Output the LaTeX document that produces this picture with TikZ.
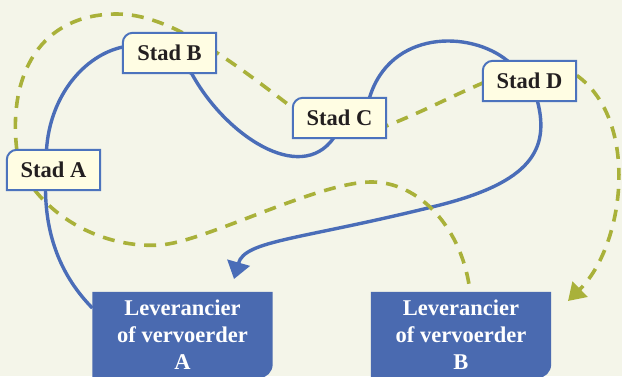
\documentclass[tikz,border=0pt]{standalone}
\usepackage{fontspec}
\setmainfont{Liberation Serif}
\usetikzlibrary{arrows.meta}
\definecolor{paper}{HTML}{F4F5E9}
\definecolor{cream}{HTML}{FFFDE3}
\definecolor{ink}{HTML}{231F20}
\definecolor{frameblue}{HTML}{4C73BD}
\definecolor{boxblue}{HTML}{4A6AB0}
\definecolor{routeblue}{HTML}{4A6DB8}
\definecolor{ritgroen}{HTML}{A9B13A}
\pgfdeclarelayer{lines}
\pgfdeclarelayer{boxes}
\pgfsetlayers{lines,boxes,main}

\begin{document}
\begin{tikzpicture}[x=1pt,y=-1pt,
    stad/.style={minimum width=93pt,minimum height=40pt,inner sep=0pt,
      text=ink,font=\fontsize{22.5}{26}\selectfont\bfseries},
    lev/.style={minimum width=180pt,minimum height=86pt,inner sep=0pt,align=center,
      text=white,font=\fontsize{22.5}{27}\selectfont\bfseries},
    stadframe/.style={draw=frameblue,fill=cream,line width=2pt},
    levframe/.style={fill=boxblue},
    route/.style={draw=routeblue,line width=3.4pt},
    rit/.style={draw=ritgroen,line width=3.6pt,dash pattern=on 12pt off 9pt},
    >=Triangle]

\useasboundingbox (0,0) rectangle (622,376);

% Cities
\node[stad] (A) at (53.5,170) {Stad A};
\node[stad] (B) at (169.5,53) {Stad B};
\node[stad] (C) at (339.5,118) {Stad C};
\node[stad] (D) at (529.5,81) {Stad D};

% Suppliers
\node[lev] (levA) at (182.5,335) {Leverancier\\of vervoerder\\A};
\node[lev] (levB) at (461,335) {Leverancier\\of vervoerder\\B};

\coordinate (pijlA) at (234,279);
\coordinate (pijlB) at (568,301);

\begin{pgfonlayer}{lines}
\fill[paper] (0,0) rectangle (622,376);

% Route of A: levA -> A -> B -> C -> D -> levA
\draw[route,-{Triangle[length=17pt,width=23pt]}]
  ([yshift=27pt]levA.west) .. controls (60,275) and (46,235) .. ([xshift=-8pt]A.south)
  -- ([xshift=-7pt]A.north) .. controls (50,95) and (85,55) .. ([yshift=6pt]B.west)
  -- ([xshift=22pt]B.south) .. controls (225,135) and (300,185) .. ([xshift=-6pt]C.south)
  -- ([xshift=30pt]C.north) .. controls (390,30) and (470,30) .. ([xshift=-22pt]D.north)
  -- ([xshift=8pt]D.south) .. controls (550,150) and (530,182) .. (440,205)
  .. controls (300,240) and (245,240) .. (pijlA);

% Route of B: levB -> A -> B -> C -> D -> levB
\draw[rit,-{Triangle[length=17pt,width=21pt]}]
  ([xshift=10pt]A.north west) .. controls (8,75) and (40,14) .. (117,14)
  .. controls (170,14) and (230,60) .. ([yshift=10pt]C.west)
  -- ([yshift=-8pt]C.east) .. controls (420,113) and (450,97) .. ([yshift=-2pt]D.west)
  -- ([yshift=6pt]D.east) .. controls (640,120) and (625,245) .. (pijlB);
\draw[rit]
  ([xshift=28pt]A.south west) .. controls (65,228) and (115,248) .. (160,245)
  .. controls (205,242) and (315,183) .. (370,182)
  .. controls (420,181) and (463,230) .. ([xshift=9pt]levB.north);
\end{pgfonlayer}

% Box outlines, one rounded corner each
\begin{pgfonlayer}{boxes}
\foreach \n in {A,B,C,D}
  \path[stadframe] ([yshift=-10pt]\n.north west) arc[start angle=180,end angle=90,radius=10pt]
    -- (\n.north east) -- (\n.south east) -- (\n.south west) -- cycle;
\foreach \n in {levA,levB}
  \path[levframe] (\n.north west) -- (\n.north east) -- ([yshift=14pt]\n.south east)
    arc[start angle=0,end angle=-90,radius=14pt] -- (\n.south west) -- cycle;
\end{pgfonlayer}

\end{tikzpicture}
\end{document}
